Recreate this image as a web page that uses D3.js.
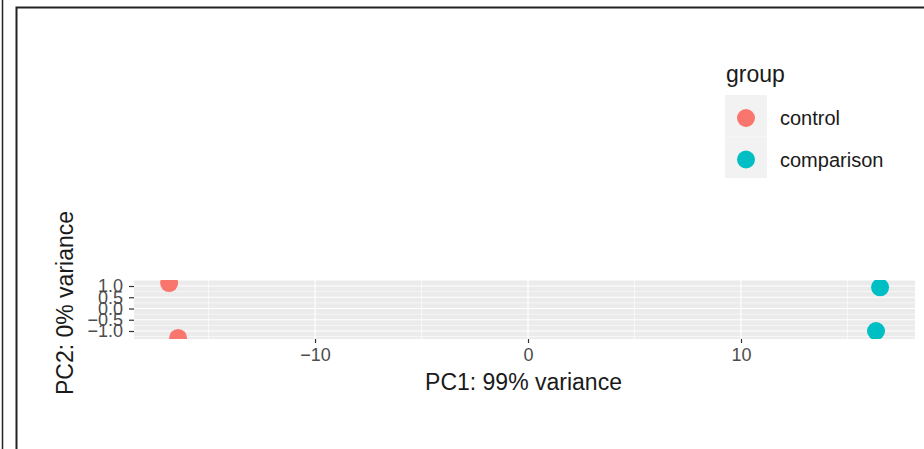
<!DOCTYPE html>
<html>
<head>
<meta charset="utf-8">
<script src="https://cdn.jsdelivr.net/npm/d3@7"></script>
<style>
  body { margin: 0; background: #fff; }
  text { font-family: "Liberation Sans", Arial, sans-serif; }
</style>
</head>
<body>
<div id="chart"></div>
<script>
// sample scores
const sampleGroup = ["control", "control", "comparison", "comparison"];
const pc1 = [-16.85, -16.43, 16.53, 16.34];
const pc2 = [1.13, -1.31, 0.94, -1.0];

// legend + axis labels
const groups = ["control", "comparison"];
const groupColors = ["#F8766D", "#00BFC4"];
const xTicks = [-10, 0, 10];
const xMinor = [-15, -5, 5, 15];
const yTicks = [-1.0, -0.5, 0, 0.5, 1.0];
const yMinor = [-1.25, -0.75, -0.25, 0.25, 0.75, 1.25];
const xTitle = "PC1: 99% variance";
const yTitle = "PC2: 0% variance";
const legendTitle = "group";

const W = 924, H = 449;
const svg = d3.select("#chart").append("svg")
  .attr("width", W)
  .attr("height", H);

// frame lines around the screenshot
svg.append("line").attr("x1", 2.5).attr("x2", 2.5).attr("y1", 0).attr("y2", H)
  .attr("stroke", "#222").attr("stroke-width", 1.5);
svg.append("path").attr("d", `M16.5,${H} V7.5 H${W}`)
  .attr("fill", "none").attr("stroke", "#222").attr("stroke-width", 2);

// panel box
const panel = { left: 134, right: 915, top: 280, bottom: 339 };

// scales (coord_fixed-ish: ~21.3 px per unit)
const x = d3.scaleLinear().domain([-18.5, 18.17]).range([panel.left, panel.right]);
const y = d3.scaleLinear().domain([-1.356, 1.267]).range([panel.bottom, panel.top]);

svg.append("defs").append("clipPath").attr("id", "panelClip")
  .append("rect")
  .attr("x", panel.left).attr("y", panel.top)
  .attr("width", panel.right - panel.left).attr("height", panel.bottom - panel.top);

svg.append("rect")
  .attr("x", panel.left).attr("y", panel.top)
  .attr("width", panel.right - panel.left).attr("height", panel.bottom - panel.top)
  .attr("fill", "#EBEBEB");

const grid = svg.append("g").attr("clip-path", "url(#panelClip)");

// minor grid
grid.selectAll(".ymin").data(yMinor).enter().append("line")
  .attr("x1", panel.left).attr("x2", panel.right)
  .attr("y1", d => y(d)).attr("y2", d => y(d))
  .attr("stroke", "#fff").attr("stroke-width", 0.6);
grid.selectAll(".xmin").data(xMinor).enter().append("line")
  .attr("y1", panel.top).attr("y2", panel.bottom)
  .attr("x1", d => x(d)).attr("x2", d => x(d))
  .attr("stroke", "#fff").attr("stroke-width", 0.6);
// major grid
grid.selectAll(".ymaj").data(yTicks).enter().append("line")
  .attr("x1", panel.left).attr("x2", panel.right)
  .attr("y1", d => y(d)).attr("y2", d => y(d))
  .attr("stroke", "#fff").attr("stroke-width", 1.2);
grid.selectAll(".xmaj").data(xTicks).enter().append("line")
  .attr("y1", panel.top).attr("y2", panel.bottom)
  .attr("x1", d => x(d)).attr("x2", d => x(d))
  .attr("stroke", "#fff").attr("stroke-width", 1.2);

// points, clipped to the panel like ggplot
const color = d3.scaleOrdinal().domain(groups).range(groupColors);
grid.selectAll(".pt").data(pc1).enter().append("circle")
  .attr("cx", (d, i) => x(d))
  .attr("cy", (d, i) => y(pc2[i]))
  .attr("r", 9)
  .attr("fill", (d, i) => color(sampleGroup[i]));

// axes
const xAxis = svg.append("g")
  .attr("transform", `translate(0,${panel.bottom})`)
  .call(d3.axisBottom(x).tickValues(xTicks).tickSize(4).tickPadding(5).tickFormat(d3.format("d")));
const yAxis = svg.append("g")
  .attr("transform", `translate(${panel.left},0)`)
  .call(d3.axisLeft(y).tickValues(yTicks).tickSize(5).tickPadding(6).tickFormat(d3.format(".1f")));

[xAxis, yAxis].forEach(a => {
  a.select(".domain").remove();
  a.selectAll(".tick line").attr("stroke", "#333").attr("stroke-width", 1.2);
  a.selectAll(".tick text").attr("fill", "#4D4D4D")
    .style("font-size", "18px")
    .style("font-family", "'Liberation Sans', Arial, sans-serif");
});

// axis titles
svg.append("text")
  .attr("x", (panel.left + panel.right) / 2 - 1)
  .attr("y", 390)
  .attr("text-anchor", "middle")
  .attr("fill", "#1a1a1a")
  .style("font-size", "23px")
  .text(xTitle);

svg.append("text")
  .attr("transform", "translate(73,303) rotate(-90)")
  .attr("text-anchor", "middle")
  .attr("fill", "#1a1a1a")
  .style("font-size", "23px")
  .text(yTitle);

// legend
const legend = svg.append("g").attr("transform", "translate(725,95)");
legend.append("text")
  .attr("x", 1).attr("y", -13)
  .attr("fill", "#1a1a1a")
  .style("font-size", "23px")
  .text(legendTitle);

const keys = legend.selectAll(".key").data(groups).enter().append("g")
  .attr("transform", (d, i) => `translate(0,${i * 41.5})`);
keys.append("rect")
  .attr("width", 42).attr("height", 41.5)
  .attr("fill", "#F2F2F2");
keys.append("circle")
  .attr("cx", 21).attr("cy", 23)
  .attr("r", 9)
  .attr("fill", d => color(d));
keys.append("text")
  .attr("x", 55).attr("y", 23)
  .attr("dy", "0.35em")
  .attr("fill", "#1a1a1a")
  .style("font-size", "20px")
  .text(d => d);
</script>
</body>
</html>
